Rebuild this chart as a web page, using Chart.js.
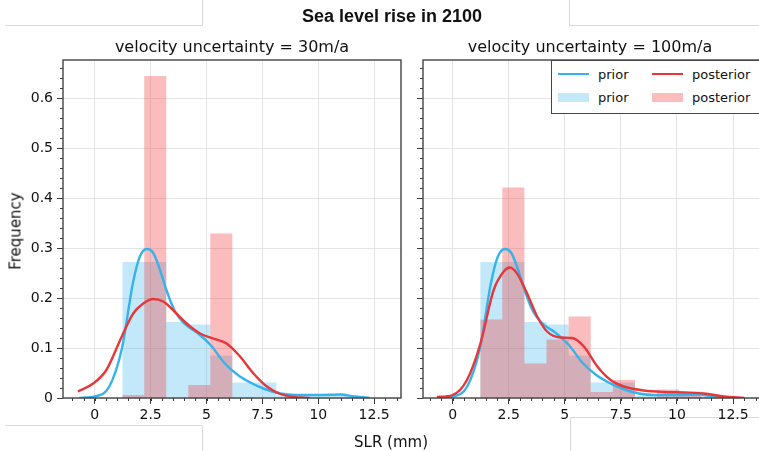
<!DOCTYPE html>
<html>
<head>
<meta charset="utf-8">
<script src="https://cdn.jsdelivr.net/npm/chart.js@4.4.0/dist/chart.umd.min.js"></script>
<style>
  html, body { margin: 0; padding: 0; background: #fff; overflow: hidden; }
  #wrap { position: relative; width: 759px; height: 451px; overflow: hidden; }
  canvas { position: absolute; top: 0; }
  .txt { position: absolute; white-space: nowrap; line-height: 1; color: #111;
         font-family: "DejaVu Sans", sans-serif; transform: translate(-50%, -50%); }
  .frame { position: absolute; border: 0 solid #d9d9d9; }
  #legend { position: absolute; left: 551px; top: 60px; width: 230px; height: 52px;
            border: 1px solid #444; background: #fff; }
  .lg-h { position: absolute; }
  .lg-t { position: absolute; font: 13px "DejaVu Sans", sans-serif; color: #111; line-height: 1; transform: translateY(-50%); }
</style>
</head>
<body>
<div id="wrap">
  <div class="frame" style="left:5px;top:-1px;width:197px;height:26px;border-right-width:1px;border-bottom-width:1px"></div>
  <div class="frame" style="left:569px;top:-1px;width:200px;height:26px;border-left-width:1px;border-bottom-width:1px"></div>
  <div class="frame" style="left:5px;top:425px;width:197px;height:40px;border-right-width:1px;border-top-width:1px"></div>
  <div class="frame" style="left:570px;top:417px;width:200px;height:40px;border-left-width:1px;border-top-width:1px"></div>

  <canvas id="c30" width="405" height="451" style="left:0"></canvas>
  <canvas id="c100" width="356" height="451" style="left:405px"></canvas>

  <div class="txt" style="left:392px;top:16px;font:bold 18px 'Liberation Sans',Arial,sans-serif">Sea level rise in 2100</div>
  <div class="txt" id="sub30" style="left:232px;top:47px;font-size:16px"></div>
  <div class="txt" id="sub100" style="left:590px;top:47px;font-size:16px"></div>
  <div class="txt" style="left:16px;top:231px;font-size:15px;transform:translate(-50%,-50%) rotate(-90deg)">Frequency</div>
  <div class="txt" style="left:391px;top:442px;font-size:15px">SLR (mm)</div>
  <div id="legend"></div>
</div>

<script>
/* ── Data ───────────────────────────────────────── */
const panelTitles = ["velocity uncertainty = 30m/a", "velocity uncertainty = 100m/a"];
const seriesLabels = ["prior", "posterior"];

// histogram bins (shared by every histogram)
const binEdges = [1.23, 2.215, 3.2, 4.185, 5.17, 6.155, 7.14, 8.125, 9.11, 10.095, 11.08, 12.065];
const priorHist   = [0.272, 0.272, 0.152, 0.147, 0.085, 0.031, 0.031, 0.005, 0.005, 0.005, 0.005];
const post30Hist  = [0.006, 0.644, 0, 0.026, 0.329, 0, 0, 0, 0, 0, 0];
const post100Hist = [0.157, 0.421, 0.069, 0.117, 0.163, 0.012, 0.036, 0, 0.017, 0.013, 0];

// kernel density curves
const priorKdeX = [-0.7, 0, 0.65, 1.22, 1.7, 2.0, 2.33, 2.63, 2.95, 3.22, 3.6, 4.0, 4.6, 5.2, 5.8, 6.4, 7.0, 7.6, 8.3, 9.0, 10.0, 11.0, 11.6, 12.3];
const priorKdeY = [0, 0.003, 0.023, 0.1, 0.228, 0.281, 0.298, 0.289, 0.252, 0.214, 0.172, 0.149, 0.13, 0.105, 0.07, 0.046, 0.03, 0.018, 0.009, 0.006, 0.006, 0.007, 0.003, 0];
const post30KdeX = [-0.75, -0.07, 0.52, 1.21, 1.72, 2.17, 2.61, 3.06, 3.5, 4.11, 4.71, 5.3, 5.9, 6.5, 7.1, 7.7, 8.3, 8.9, 9.6];
const post30KdeY = [0.013, 0.029, 0.056, 0.123, 0.169, 0.189, 0.198, 0.193, 0.176, 0.149, 0.129, 0.119, 0.109, 0.083, 0.049, 0.023, 0.008, 0.002, 0];
const post100KdeX = [-0.7, 0, 0.64, 1.24, 1.83, 2.28, 2.55, 2.87, 3.32, 3.77, 4.21, 4.81, 5.33, 5.85, 6.45, 7.04, 7.63, 8.53, 9.42, 10.3, 11.2, 12.1, 13.0];
const post100KdeY = [0.002, 0.006, 0.036, 0.109, 0.216, 0.253, 0.261, 0.249, 0.209, 0.163, 0.133, 0.121, 0.12, 0.103, 0.063, 0.036, 0.023, 0.015, 0.012, 0.011, 0.009, 0.003, 0];

const xTicks = [0, 2.5, 5, 7.5, 10, 12.5];
const yTicks = [0, 0.1, 0.2, 0.3, 0.4, 0.5, 0.6];

/* ── Style ──────────────────────────────────────── */
const BLUE = "#35b3ec", RED = "#e6373b";
const BLUE_FILL = "rgba(53,179,236,0.30)", RED_FILL = "rgba(240,70,70,0.36)";
const INK = "#3a3a3a";
const TICK_FONT = { family: "DejaVu Sans", size: 14 };

const pairs = (xs, ys) => xs.map((x, i) => ({ x, y: ys[i] }));
// step outline: segment i sits at hist[i], last edge repeats the last value
const steps = hist => binEdges.map((e, i) => ({ x: e, y: hist[Math.min(i, hist.length - 1)] }));

/* ── Minor ticks + axes box ─────────────────────── */
const frame = {
  id: "frame",
  afterDraw(chart) {
    const { ctx, chartArea: a, scales } = chart;
    const mx = chart.options.minor;
    ctx.save();
    ctx.strokeStyle = INK;
    ctx.lineWidth = 1;
    ctx.beginPath();
    const xs = scales.x, ys = scales.y;
    for (let k = Math.ceil(xs.min / mx.x); k * mx.x <= xs.max; k++) {
      const px = Math.round(xs.getPixelForValue(k * mx.x)) + 0.5;
      ctx.moveTo(px, a.bottom); ctx.lineTo(px, a.bottom + 3);
    }
    for (let k = Math.ceil(ys.min / mx.y - 1e-6); k * mx.y <= ys.max; k++) {
      const py = Math.round(ys.getPixelForValue(k * mx.y)) + 0.5;
      ctx.moveTo(a.left, py); ctx.lineTo(a.left - 3, py);
    }
    ctx.stroke();
    ctx.lineWidth = 1.4;
    ctx.strokeStyle = "#444";
    ctx.strokeRect(a.left, a.top, a.right - a.left, a.bottom - a.top);
    ctx.restore();
  }
};

function makeChart(id, postHist, postKdeX, postKdeY, xMin, xMax, yWidth, padRight, showYLabels) {
  return new Chart(document.getElementById(id), {
    type: "line",
    data: {
      datasets: [
        { label: seriesLabels[0], data: pairs(priorKdeX, priorKdeY), borderColor: BLUE, borderWidth: 2.4,
          cubicInterpolationMode: "monotone", pointRadius: 0, fill: false, order: 2 },
        { label: seriesLabels[1], data: pairs(postKdeX, postKdeY), borderColor: RED, borderWidth: 2.4,
          cubicInterpolationMode: "monotone", pointRadius: 0, fill: false, order: 1 },
        { label: seriesLabels[0], data: steps(priorHist), stepped: true, borderColor: "transparent", borderWidth: 0,
          backgroundColor: BLUE_FILL, pointRadius: 0, fill: "origin", order: 4 },
        { label: seriesLabels[1], data: steps(postHist), stepped: true, borderColor: "transparent", borderWidth: 0,
          backgroundColor: RED_FILL, pointRadius: 0, fill: "origin", order: 3 }
      ]
    },
    options: {
      responsive: false,
      animation: false,
      events: [],
      minor: { x: 0.5, y: 0.02 },
      layout: { padding: { top: 60, right: padRight, left: 0, bottom: 0 } },
      plugins: { legend: { display: false }, tooltip: { enabled: false } },
      scales: {
        x: {
          type: "linear", min: xMin, max: xMax,
          afterBuildTicks: s => { s.ticks = xTicks.map(v => ({ value: v })); },
          afterFit: s => { s.height = 53; },
          grid: { color: "#e4e4e4", lineWidth: 1, tickLength: 6, tickColor: INK, tickWidth: 1 },
          border: { display: false },
          ticks: { font: TICK_FONT, color: "#111", padding: 3, maxRotation: 0, autoSkip: false,
                   callback: v => String(v) }
        },
        y: {
          type: "linear", min: 0, max: 0.676,
          afterBuildTicks: s => { s.ticks = yTicks.map(v => ({ value: v })); },
          afterFit: s => { s.width = yWidth; },
          grid: { color: "#e4e4e4", lineWidth: 1, tickLength: 6, tickColor: INK, tickWidth: 1 },
          border: { display: false },
          ticks: { display: showYLabels, font: TICK_FONT, color: "#111", padding: 4,
                   callback: v => String(Math.round(v * 10) / 10) }
        }
      }
    },
    plugins: [frame]
  });
}

const chart30  = makeChart("c30",  post30Hist,  post30KdeX,  post30KdeY,  -1.42, 13.7, 63, 4, true);
const chart100 = makeChart("c100", post100Hist, post100KdeX, post100KdeY, -1.32, 13.7, 18, 1, false);

document.getElementById("sub30").textContent = panelTitles[0];
document.getElementById("sub100").textContent = panelTitles[1];

/* ── Legend (lines on top row, patches below) ───── */
const legend = document.getElementById("legend");
chart100.data.datasets.forEach((ds, i) => {
  const col = i % 2, row = Math.floor(i / 2);
  const left = 6 + col * 94, cy = 13 + row * 23;
  const isLine = !ds.fill;
  const h = document.createElement("div");
  h.className = "lg-h";
  h.style.left = left + "px";
  h.style.width = "31px";
  h.style.height = isLine ? "2.5px" : "9px";
  h.style.top = (cy - (isLine ? 1.25 : 4.5)) + "px";
  h.style.background = isLine ? ds.borderColor : ds.backgroundColor;
  legend.appendChild(h);
  const t = document.createElement("div");
  t.className = "lg-t";
  t.style.left = (left + 40) + "px";
  t.style.top = cy + "px";
  t.textContent = ds.label;
  legend.appendChild(t);
});
</script>
</body>
</html>
